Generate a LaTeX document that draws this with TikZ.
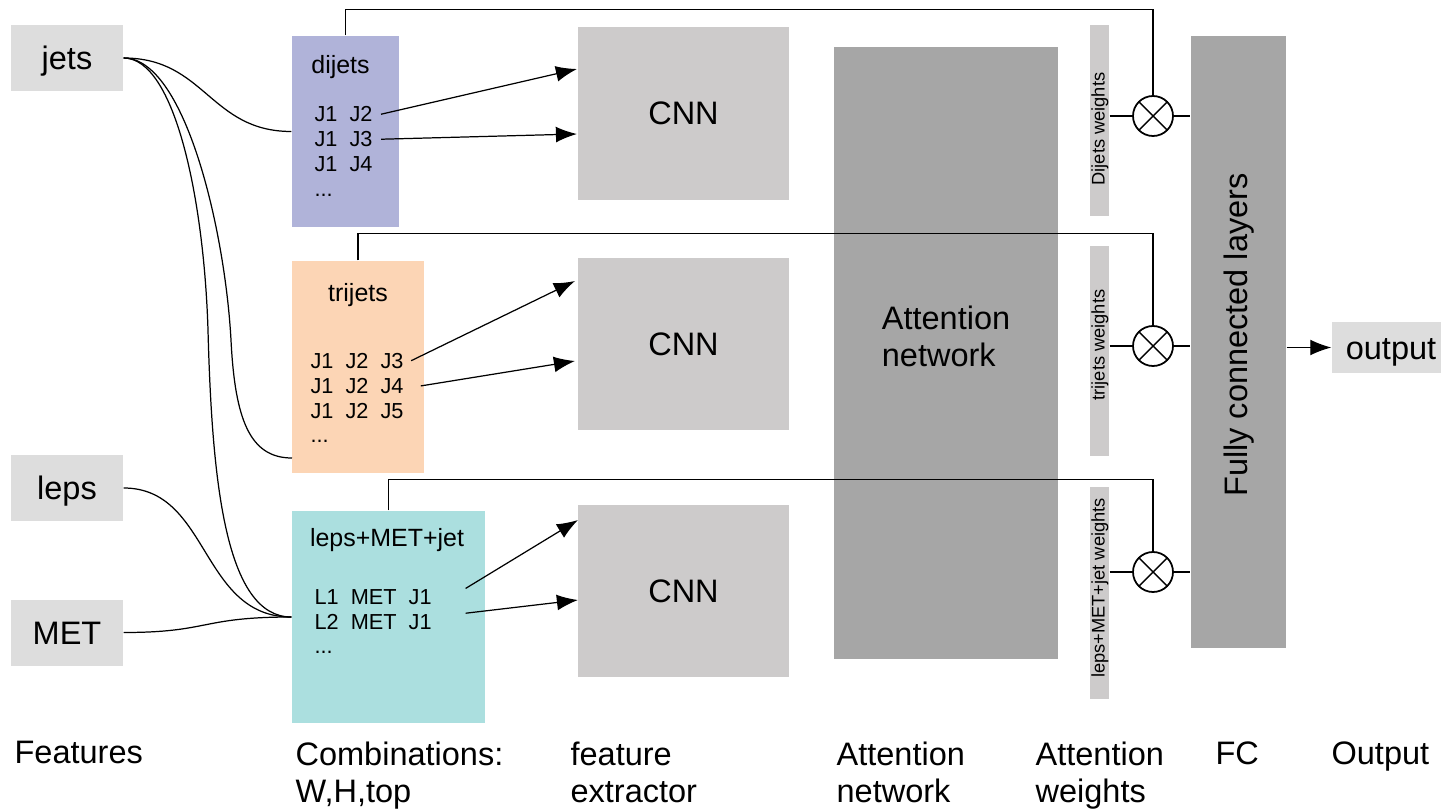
\documentclass[tikz,border=0pt]{standalone}
\usepackage{fontspec}
\setmainfont{Liberation Sans}
\usetikzlibrary{arrows.meta}

\definecolor{featgray}{HTML}{DDDDDD}
\definecolor{dijetcol}{HTML}{B0B3D9}
\definecolor{trijetcol}{HTML}{FCD5B5}
\definecolor{lepcol}{HTML}{ABDFDF}
\definecolor{cnngray}{HTML}{CDCBCB}
\definecolor{attgray}{HTML}{A6A6A6}

\def\px{0.02cm}
\newcommand{\bigtxt}{\fontsize{18.5}{21}\selectfont}
\newcommand{\midtxt}{\fontsize{14.2}{17}\selectfont}
\newcommand{\rowtxt}{\fontsize{12.35}{14.2}\selectfont}
\newcommand{\smalltxt}{\fontsize{10.4}{12}\selectfont}

\begin{document}
\begin{tikzpicture}[x=\px,y=-\px,line width=0.7pt,>={Latex[length=12pt,width=9pt]}]
	\tikzstyle{feat} = [rectangle,fill=featgray,minimum width=112*\px,minimum height=66*\px,text height=13.25pt,text depth=0pt,font=\bigtxt]
	\tikzstyle{combo} = [rectangle,inner sep=0pt]
	\tikzstyle{ctitle} = [anchor=base,inner sep=0pt,font=\midtxt]
	\tikzstyle{crow} = [anchor=base west,inner sep=0pt,font=\rowtxt]
	\tikzstyle{cnn} = [rectangle,fill=cnngray,minimum width=211*\px,minimum height=172*\px,font=\bigtxt]
	\tikzstyle{wbar} = [rectangle,fill=cnngray,minimum width=19*\px,inner sep=0pt]
	\tikzstyle{wtxt} = [rotate=90,inner sep=0pt,font=\smalltxt]
	\tikzstyle{mult} = [circle,draw,line width=1pt,minimum size=40*\px,inner sep=0pt,
		path picture={\draw[line width=0.8pt] (path picture bounding box.north west) -- (path picture bounding box.south east)
			(path picture bounding box.north east) -- (path picture bounding box.south west);}]
	\tikzstyle{blabel} = [anchor=north west,inner sep=0pt,align=left,font=\bigtxt]
	
	\useasboundingbox (0,0) rectangle (1441,811);
	
	% features
	\node[feat](jets) at (67,58){jets};
	\node[feat](leps) at (67,488){leps};
	\node[feat](met) at (67,632.5){MET};
	
	% combinations
	\node[combo,fill=dijetcol,minimum width=107*\px,minimum height=191*\px](dj) at (345.5,131.5){};
	\node[combo,fill=trijetcol,minimum width=132*\px,minimum height=212*\px](tj) at (358,367){};
	\node[combo,fill=lepcol,minimum width=193*\px,minimum height=212*\px](lm) at (388.5,617){};
	
	\node[ctitle](dj-t) at (340.5,73.3){dijets};
	\node[ctitle](tj-t) at (358,301.7){trijets};
	\node[ctitle](lm-t) at (387,546){leps+MET+jet};
	
	\foreach \t [count=\i] in {J2,J3,J4}
		\node[crow](dj-\i) at (314,96.7+25*\i){J1\ \ \t};
	\node[crow](dj-4) at (314,196.7){...};
	\foreach \t [count=\i] in {J3,J4,J5}
		\node[crow](tj-\i) at (310,343+25.2*\i){J1\ \ J2\ \ \t};
	\node[crow](tj-4) at (310,442.7){...};
	\foreach \t [count=\i] in {L1,L2}
		\node[crow](lm-\i) at (314,579+25*\i){\t\ \ MET\ \ J1};
	\node[crow](lm-3) at (314,653){...};
	
	% feature extractors
	\foreach \y [count=\i] in {113.5,344,591}
		\node[cnn](cnn-\i) at (683.5,\y){CNN};
	
	% attention network
	\node[rectangle,fill=attgray,minimum width=224*\px,minimum height=612*\px](att) at (946,353){};
	\node[align=left,font=\bigtxt](att-t) at (946,336){Attention\\network};
	
	% attention weights
	\node[wbar,minimum height=191*\px](w-1) at (1099.5,120.5){};
	\node[wbar,minimum height=210*\px](w-2) at (1099.5,351){};
	\node[wbar,minimum height=212*\px](w-3) at (1099.5,593){};
	\node[wtxt](w-1-t) at (1100,129){Dijets weights};
	\node[wtxt](w-2-t) at (1100,345){trijets weights};
	\node[wtxt](w-3-t) at (1100,588){leps+MET+jet weights};
	
	\foreach \y [count=\i] in {116,346,572}
		\node[mult](m-\i) at (1153,\y){};
	
	% FC and output
	\node[rectangle,fill=attgray,minimum width=95*\px,minimum height=612*\px](fc) at (1238.5,342){};
	\node[rotate=90,font=\bigtxt](fc-t) at (1239,335){Fully connected layers};
	\node[feat,minimum width=118*\px,minimum height=51*\px](out) at (1391,347.5){output};
	
	% curves from the features
	\coordinate (tj-in) at (292,458);
	\draw (jets.east) .. controls (205,58) and (210,131.5) .. (dj.west);
	\draw (jets.east) .. controls (185,58) and (225,230) .. (231,340) .. controls (235,420) and (250,458) .. (tj-in);
	\draw (jets.east) .. controls (175,58) and (204,200) .. (208,330) .. controls (212,480) and (225,617) .. (lm.west);
	\draw (leps.east) .. controls (210,488) and (200,617) .. (lm.west);
	\draw (met.east) .. controls (210,632.5) and (200,617) .. (lm.west);
	
	% into the CNNs
	\coordinate (cnn-1-a) at (577,69);
	\coordinate (cnn-1-b) at (577,134);
	\coordinate (cnn-2-a) at (575,281);
	\coordinate (cnn-2-b) at (575,361);
	\coordinate (cnn-3-a) at (578,520);
	\coordinate (cnn-3-b) at (578,600);
	\path[->] ([xshift=4.5pt]dj-1.east) edge (cnn-1-a)
	([xshift=4.5pt]dj-2.east) edge (cnn-1-b)
	([xshift=4pt]tj-1.east) edge (cnn-2-a)
	([xshift=9.5pt]tj-2.east) edge (cnn-2-b)
	([xshift=19pt]lm-1.north east) edge (cnn-3-a)
	([xshift=19pt]lm-2.north east) edge (cnn-3-b);
	
	% skip lines over the attention network
	\draw (dj.north) -- ++(0,-26) -| (m-1.north);
	\draw (tj.north) -- ++(0,-27) -| (m-2.north);
	\draw (lm.north) -- ++(0,-31) -| (m-3.north);
	
	\foreach \i in {1,2,3}{
		\path (w-\i.east |- m-\i) edge (m-\i.west)
		(m-\i.east) edge (fc.west |- m-\i);
	};
	\path[->] (fc.east |- out) edge (out.west);
	
	% column labels
	\node[blabel](l-feat) at (14,741){Features};
	\node[blabel](l-comb) at (295,741){Combinations:\\W,H,top};
	\node[blabel](l-cnn) at (570,741){feature\\extractor};
	\node[blabel](l-att) at (836,741){Attention\\network};
	\node[blabel](l-w) at (1035,741){Attention\\weights};
	\node[blabel](l-fc) at (1215,741){FC};
	\node[blabel](l-out) at (1331,741){Output};
\end{tikzpicture}
\end{document}
